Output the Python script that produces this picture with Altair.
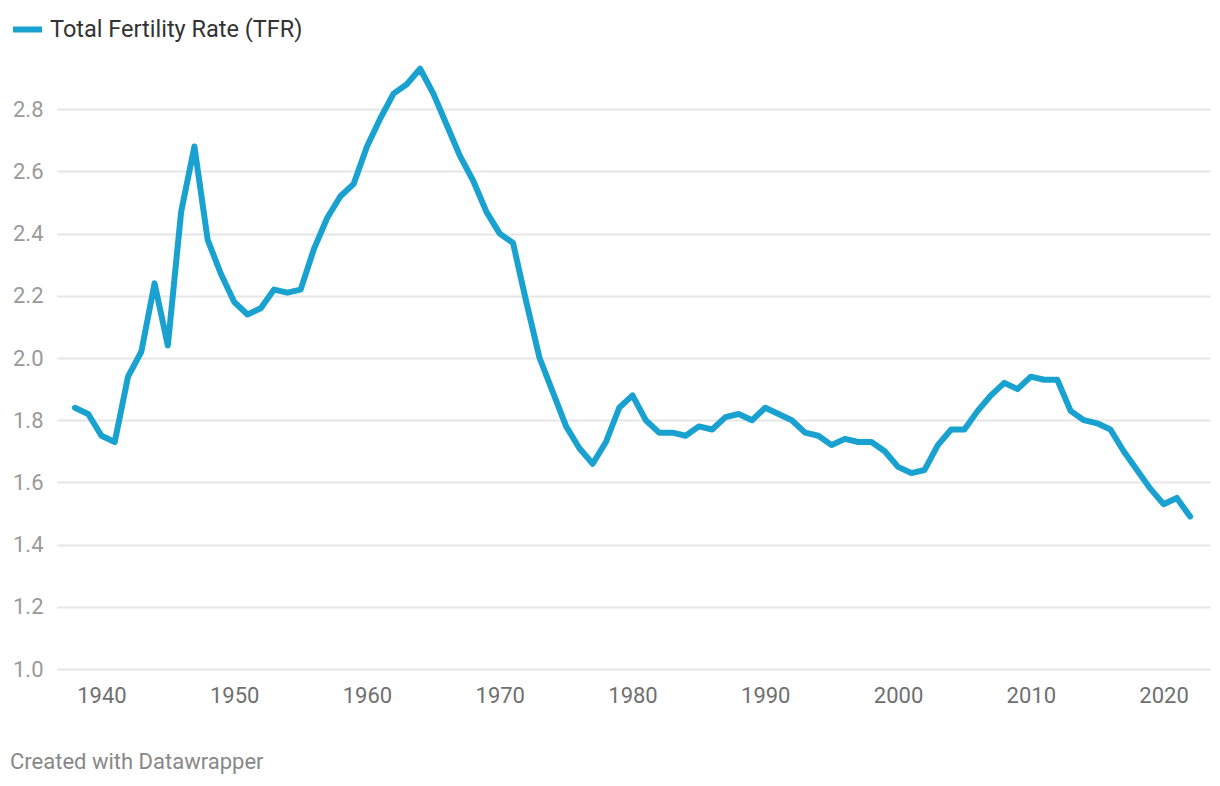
import altair as alt
import pandas as pd

years = list(range(1938, 2023))
tfr = [
    1.84, 1.82, 1.75, 1.73, 1.94, 2.02, 2.24, 2.04, 2.47, 2.68,
    2.38, 2.27, 2.18, 2.14, 2.16, 2.22, 2.21, 2.22, 2.35, 2.45,
    2.52, 2.56, 2.68, 2.77, 2.85, 2.88, 2.93, 2.85, 2.75, 2.65,
    2.57, 2.47, 2.40, 2.37, 2.18, 2.00, 1.89, 1.78, 1.71, 1.66,
    1.73, 1.84, 1.88, 1.80, 1.76, 1.76, 1.75, 1.78, 1.77, 1.81,
    1.82, 1.80, 1.84, 1.82, 1.80, 1.76, 1.75, 1.72, 1.74, 1.73,
    1.73, 1.70, 1.65, 1.63, 1.64, 1.72, 1.77, 1.77, 1.83, 1.88,
    1.92, 1.90, 1.94, 1.93, 1.93, 1.83, 1.80, 1.79, 1.77, 1.70,
    1.64, 1.58, 1.53, 1.55, 1.49,
]
series_name = "Total Fertility Rate (TFR)"
y_ticks = [1.0, 1.2, 1.4, 1.6, 1.8, 2.0, 2.2, 2.4, 2.6, 2.8]
x_ticks = [1940, 1950, 1960, 1970, 1980, 1990, 2000, 2010, 2020]

df = pd.DataFrame({"year": years, "tfr": tfr, "series": [series_name] * len(years)})

FONT = "Roboto"

chart = alt.Chart(df).mark_line(
    strokeWidth=6, strokeJoin="round", strokeCap="round"
).encode(
    x=alt.X(
        "year:Q",
        scale=alt.Scale(domain=[1936.65, 2023.5], nice=False, zero=False),
        axis=alt.Axis(
            values=x_ticks, format="d", grid=False, domain=False, ticks=False,
            labelFontSize=22, labelColor="#6f6f6f", labelFont=FONT,
            labelPadding=16, title=None,
        ),
    ),
    y=alt.Y(
        "tfr:Q",
        scale=alt.Scale(domain=[1.0, 3.0], nice=False, zero=False),
        axis=alt.Axis(
            values=y_ticks, format=".1f", grid=True, gridColor="#e6e6e6",
            gridWidth=2, domain=False, ticks=False,
            labelFontSize=22, labelColor="#9a9a9a", labelFont=FONT,
            labelPadding=14, title=None,
        ),
    ),
    color=alt.Color(
        "series:N",
        scale=alt.Scale(range=["#19a2d0"]),
        legend=alt.Legend(
            title=None, orient="none", legendX=-47, legendY=-35,
            symbolType="stroke", symbolStrokeWidth=6, symbolSize=841,
            labelFontSize=23.5, labelColor="#333333", labelFont=FONT,
            labelOffset=5, labelLimit=0, padding=0,
        ),
    ),
).properties(
    width=1153,
    height=622,
    title=alt.TitleParams(
        "Created with Datawrapper", orient="bottom", anchor="start",
        frame="group", dx=-47, offset=46, fontSize=22, fontWeight="normal",
        color="#888888", font=FONT,
    ),
    autosize=alt.AutoSizeParams(type="none"),
    padding={"left": 49, "top": 39, "right": 2, "bottom": 112},
).configure_view(stroke=None)

chart.save("out.html", embed_options={"renderer": "svg", "actions": False})
